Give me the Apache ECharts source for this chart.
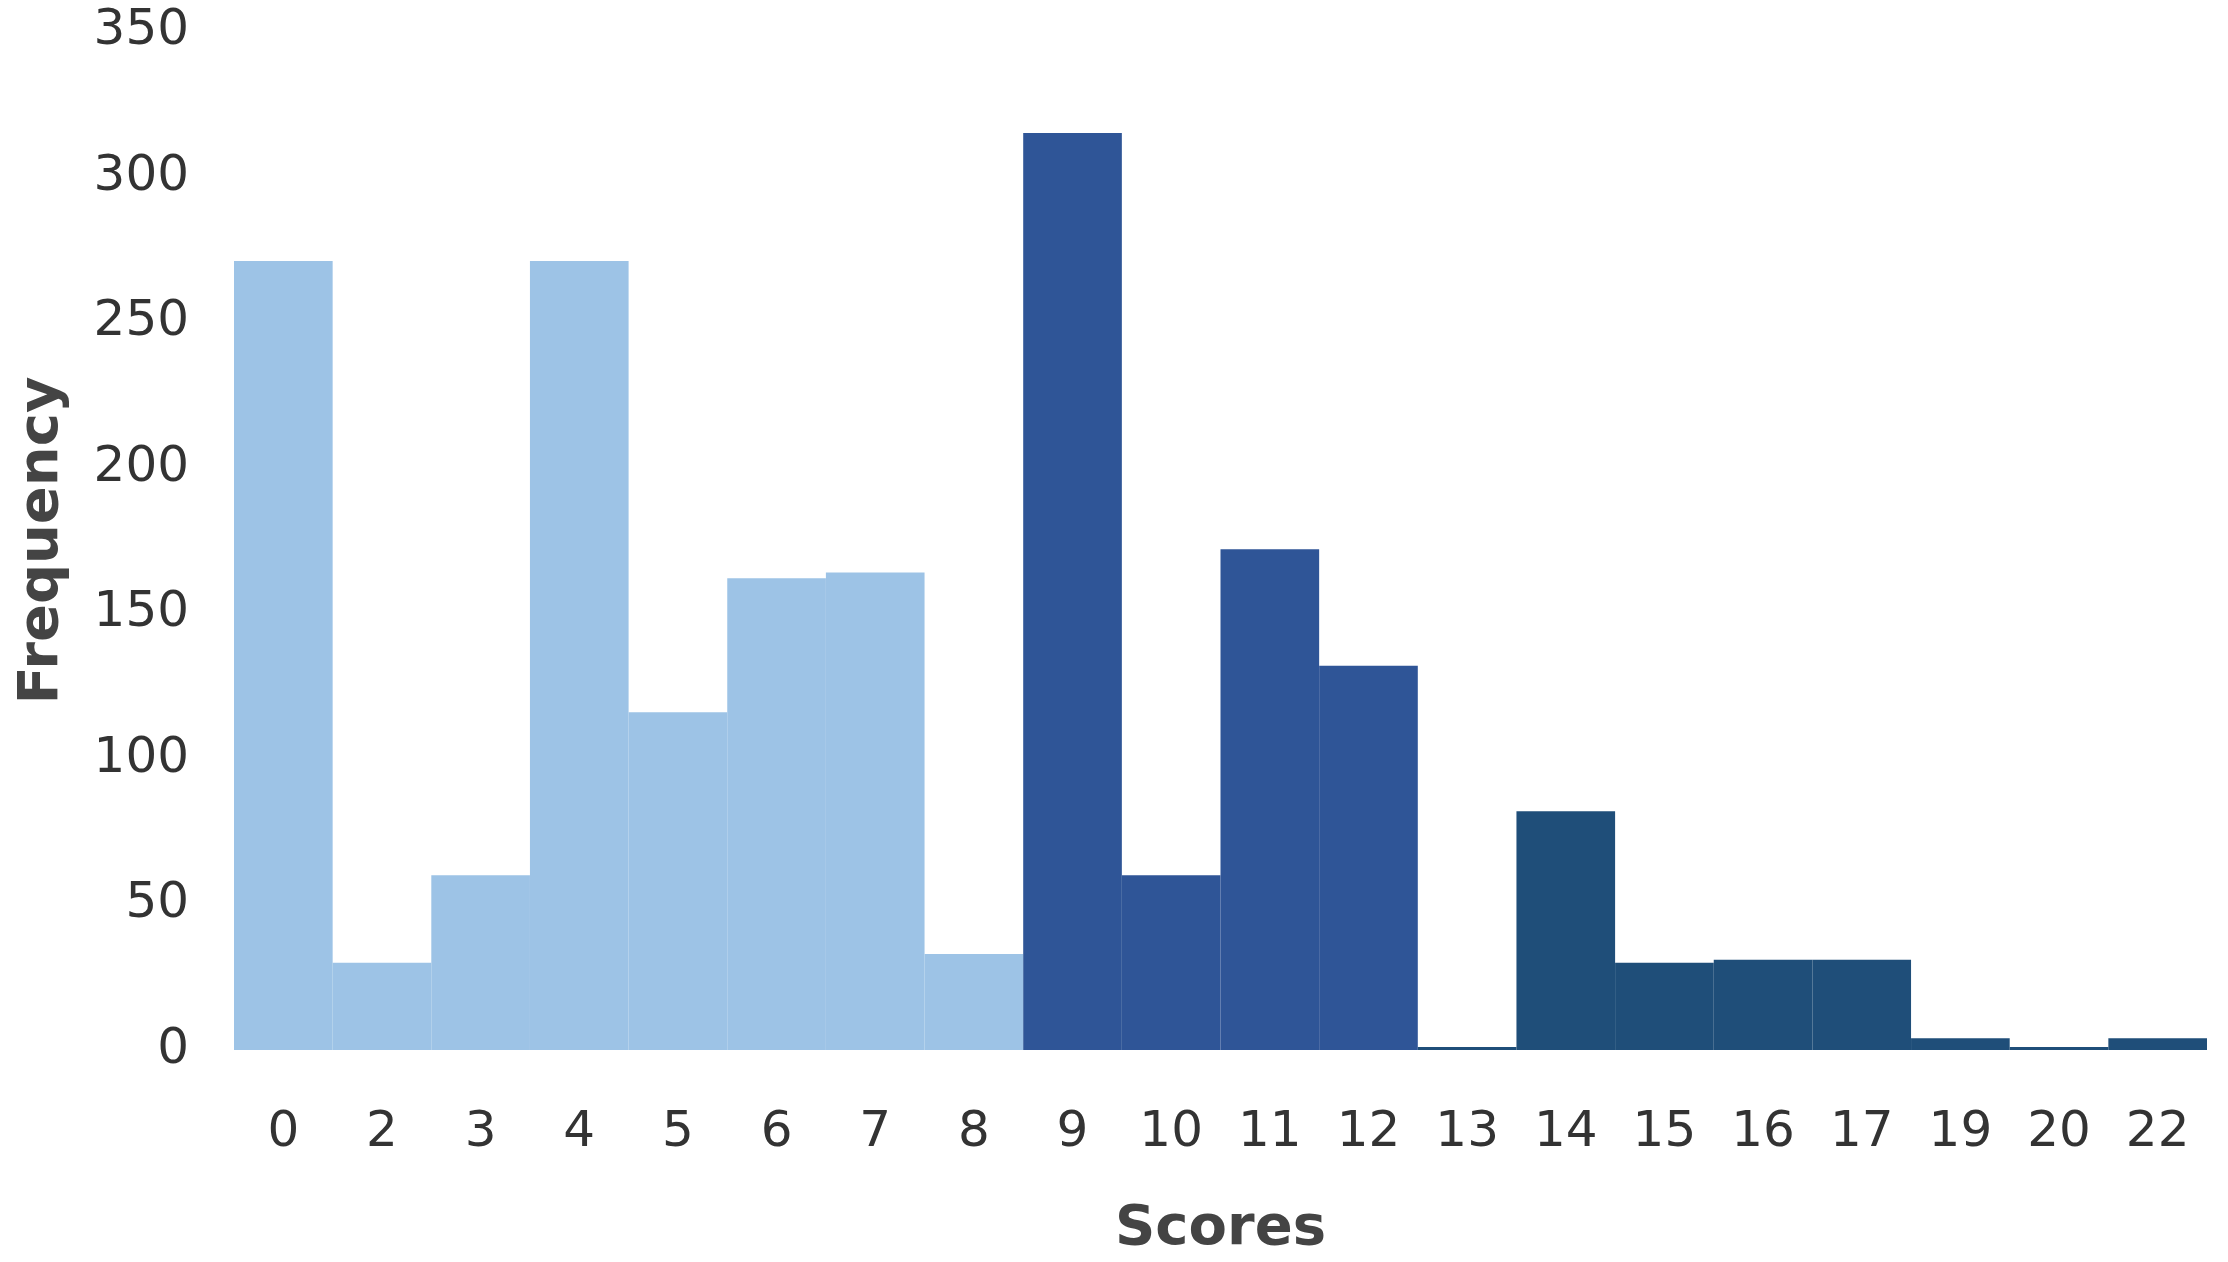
<!DOCTYPE html>
<html>
<head>
<meta charset="utf-8">
<script src="https://cdn.jsdelivr.net/npm/echarts@6/dist/echarts.min.js"></script>
<style>
  html, body { margin: 0; padding: 0; background: #ffffff; }
  #main { width: 2228px; height: 1262px; }
</style>
</head>
<body>
<div id="main"></div>
<script>
  // scores on the x axis and how often each one happened
  var scores = ['0', '2', '3', '4', '5', '6', '7', '8', '9', '10', '11', '12', '13', '14', '15', '16', '17', '19', '20', '22'];
  var frequency = [271, 30, 60, 271, 116, 162, 164, 33, 315, 60, 172, 132, 1, 82, 30, 31, 31, 4, 1, 4];
  var yTicks = [0, 50, 100, 150, 200, 250, 300, 350];

  // three shades, by score band
  function barColor(i) {
    if (i <= 7) return '#9dc3e6';
    if (i <= 11) return '#2f5597';
    return '#1f4e79';
  }

  var myChart = echarts.init(document.getElementById('main'));

  var option = {
    backgroundColor: '#ffffff',
    animation: false,
    grid: {
      left: 234,
      right: 21,
      top: 31,
      bottom: 211
    },
    xAxis: {
      type: 'category',
      data: scores,
      name: 'Scores',
      nameLocation: 'middle',
      nameGap: 151,
      nameTextStyle: {
        fontFamily: 'DejaVu Sans',
        fontSize: 56,
        fontWeight: 'bold',
        color: '#444444'
      },
      axisLine: { show: false },
      axisTick: { show: false },
      axisLabel: {
        margin: 58,
        fontFamily: 'DejaVu Sans',
        fontSize: 50,
        color: '#333333'
      }
    },
    yAxis: {
      type: 'value',
      min: yTicks[0],
      max: yTicks[yTicks.length - 1],
      interval: 50,
      name: 'Frequency',
      nameLocation: 'middle',
      nameGap: 164,
      nameTextStyle: {
        fontFamily: 'DejaVu Sans',
        fontSize: 56,
        fontWeight: 'bold',
        color: '#444444'
      },
      axisLine: { show: false },
      axisTick: { show: false },
      splitLine: { show: false },
      axisLabel: {
        margin: 45,
        padding: [10, 0, 0, 0],
        fontFamily: 'DejaVu Sans',
        fontSize: 50,
        color: '#333333'
      }
    },
    series: [
      {
        type: 'bar',
        barCategoryGap: '0%',
        data: frequency.map(function (v, i) {
          return { value: v, itemStyle: { color: barColor(i) } };
        })
      }
    ]
  };

  myChart.setOption(option);
</script>
</body>
</html>
